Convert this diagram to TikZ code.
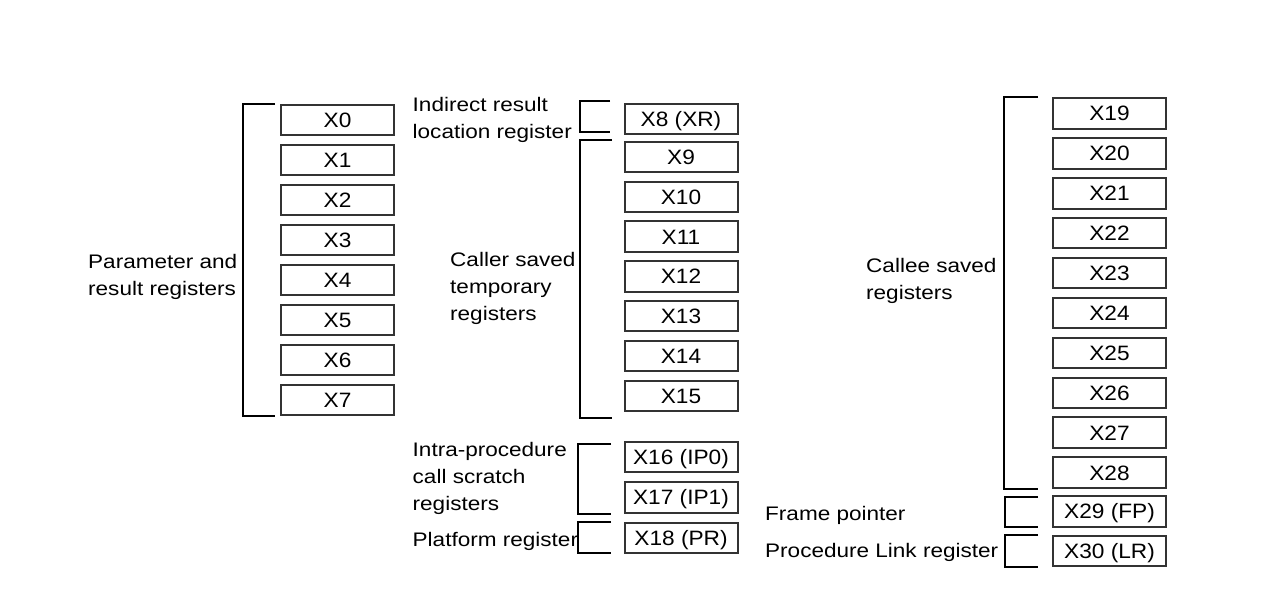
\documentclass[tikz,border=0pt]{standalone}
\usepackage{fontspec}
\setmainfont{Liberation Sans}
\newcommand\sx[1]{\scalebox{1.15}[1]{#1}}
\newcommand\bx[1]{\scalebox{1.09}[1]{#1}}
\begin{document}
\begin{tikzpicture}[x=1pt,y=-1pt,
  reg/.style={draw=black!80, line width=2pt, minimum width=113pt, minimum height=30.5pt,
    inner sep=0pt, font=\fontsize{20.8}{24}\selectfont, text height=14.8pt, text depth=0pt},
  lbl/.style={anchor=base west, align=left, inner sep=0pt, font=\fontsize{19.6}{27}\selectfont},
  brk/.style={line width=1.5pt, line join=miter}]
\fill[white] (0,0) rectangle (1280,610);
\useasboundingbox (0,0) rectangle (1280,610);
% column 1
\foreach \i in {0,...,7}
  \node[reg] (x\i) at (337.5,{120+40*\i}) {\bx{X\i}};
% column 2
\node[reg] (x8) at (681,119) {\bx{X8 (XR)}};
\foreach \i [evaluate=\i as \k using int(\i-9)] in {9,...,15}
  \node[reg] (x\i) at (681,{157+39.8*\k}) {\bx{X\i}};
\node[reg] (x16) at (681,457) {\bx{X16 (IP0)}};
\node[reg] (x17) at (681,497.5) {\bx{X17 (IP1)}};
\node[reg] (x18) at (681,538) {\bx{X18 (PR)}};
% column 3
\foreach \i [evaluate=\i as \k using int(\i-19)] in {19,...,28}
  \node[reg] (x\i) at (1109.5,{113.5+39.9*\k}) {\bx{X\i}};
\node[reg] (x29) at (1109.5,511.5) {\bx{X29 (FP)}};
\node[reg] (x30) at (1109.5,551) {\bx{X30 (LR)}};
% brackets
\draw[brk] (275,104) -| (243,416) -- (275,416);
\draw[brk] (610,101) -| (580,132) -- (610,132);
\draw[brk] (612,140) -| (580,418) -- (612,418);
\draw[brk] (611,444) -| (578,514) -- (611,514);
\draw[brk] (611,522) -| (578,553) -- (611,553);
\draw[brk] (1038,97) -| (1004,489) -- (1038,489);
\draw[brk] (1038,497) -| (1005,527) -- (1038,527);
\draw[brk] (1038,535) -| (1005,567) -- (1038,567);
% labels (multi-line nodes anchored at the baseline of their last line)
\node[lbl] (l1) at (88,295) {\sx{Parameter and}\\\sx{result registers}};
\node[lbl] (l2) at (412.5,138) {\sx{Indirect result}\\\sx{location register}};
\node[lbl] (l3) at (450,320) {\sx{Caller saved}\\\sx{temporary}\\\sx{registers}};
\node[lbl] (l4) at (412.5,510) {\sx{Intra-procedure}\\\sx{call scratch}\\\sx{registers}};
\node[lbl] (l5) at (412.5,546) {\sx{Platform register}};
\node[lbl] (l6) at (866,299.5) {\sx{Callee saved}\\\sx{registers}};
\node[lbl] (l7) at (765,520) {\sx{Frame pointer}};
\node[lbl] (l8) at (765,557) {\sx{Procedure Link register}};
\end{tikzpicture}
\end{document}
